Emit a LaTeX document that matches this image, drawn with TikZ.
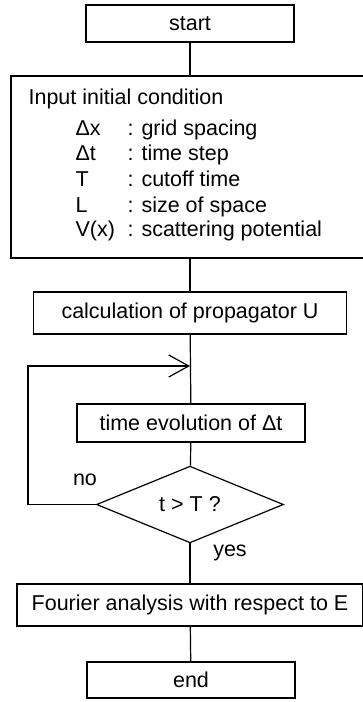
\documentclass[tikz,border=0pt]{standalone}
\usepackage{fontspec}
\setmainfont{Liberation Sans}
\usetikzlibrary{shapes.geometric,arrows.meta}

\begin{document}
\begin{tikzpicture}
[x=1pt, y=-1pt, line width=1.2pt,
  every node/.style={font=\fontsize{21.5}{26}\selectfont},
  box/.style={draw, rectangle, inner sep=0pt},
  test/.style={draw, diamond, inner sep=0pt, minimum width=187pt, minimum height=65pt},
  item/.style={anchor=base west, inner sep=0pt}]
  \useasboundingbox (0,0) rectangle (362,702);
  \node[box, minimum width=208pt, minimum height=37pt] (start) at (190,23.5) {start};
  \node[box, minimum width=358pt, minimum height=182pt] (input) at (190,167) {};
  % initial conditions, baselines
  \node[item] (title) at (28,104.5) {Input initial condition};
  \node[item] (dx) at (75,135.5) {Δx};
  \node[item] (dxtext) at (127,135.5) {: grid spacing};
  \node[item] (dt) at (75,160.5) {Δt};
  \node[item] (dttext) at (127,160.5) {: time step};
  \node[item] (cut) at (75,186.5) {T};
  \node[item] (cuttext) at (127,186.5) {: cutoff time};
  \node[item] (size) at (75,212.5) {L};
  \node[item] (sizetext) at (127,212.5) {: size of space};
  \node[item] (pot) at (75,236.5) {V(x)};
  \node[item] (pottext) at (127,236.5) {: scattering potential};
  \node[box, minimum width=313pt, minimum height=42pt] (prop) at (190,313) {calculation of propagator U};
  \node[box, minimum width=228pt, minimum height=38pt] (time) at (191,423) {time evolution of Δt};
  \node[test] (check) at (190,504.5) {t > T ?};
  \node[box, minimum width=346pt, minimum height=42pt] (fourier) at (190,605) {Fourier analysis with respect to E};
  \node[box, minimum width=208pt, minimum height=36pt] (end) at (191,680) {end};
  \coordinate (back) at (28,366);
  \coordinate (merge) at (190,366);
  \node (no) at (85,480) {no};
  \node (yes) at (230,553) {yes};
  \draw (start) -- (input);
  \draw (input) -- (prop);
  \draw (prop) -- (time);
  \draw (time) -- (check);
  \draw (check) -- (fourier);
  \draw (fourier) -- (end);
  \draw[-{Straight Barb[length=20pt,width=22pt]}] (check.west) -| (back) -- (merge);
\end{tikzpicture}
\end{document}
